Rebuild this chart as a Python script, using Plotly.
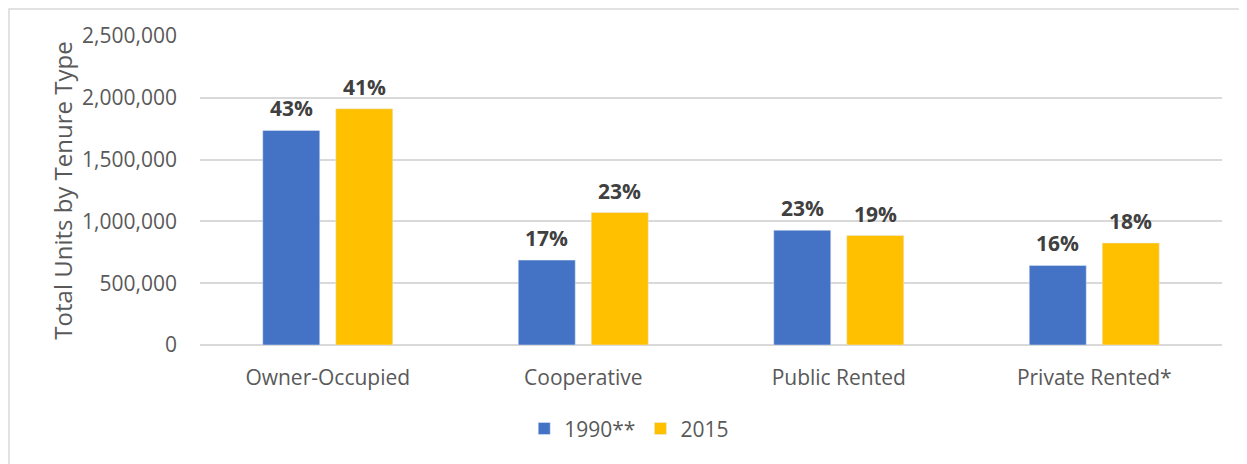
import plotly.graph_objects as go

# --- data ---
categories = ["Owner-Occupied", "Cooperative", "Public Rented", "Private Rented*"]
units_1990 = [1737000, 687000, 929000, 644000]
units_2015 = [1912000, 1072000, 886000, 826000]
share_1990 = ["43%", "17%", "23%", "16%"]
share_2015 = ["41%", "23%", "19%", "18%"]
y_ticks = [0, 500000, 1000000, 1500000, 2000000, 2500000]

BLUE = "#4472C4"
GOLD = "#FFC000"
GRID = "#D9D9D9"
TXT = "#595959"
LBL = "#404040"
FONT = "Open Sans"

# page body has an 8px margin, so the figure is sized/offset for that
W, H = 1239, 456
L, R, T, B = 192, 25, 28, 119
pw, ph = W - L - R, H - T - B

fig = go.Figure()
fig.add_trace(go.Bar(x=categories, y=units_1990, name="1990**", marker_color=BLUE))
fig.add_trace(go.Bar(x=categories, y=units_2015, name="2015", marker_color=GOLD))

# percent labels above each bar (offset to sit over grouped bars)
half = 0.1429
for i in range(len(categories)):
    for dx, val, txt in ((-half, units_1990[i], share_1990[i]), (half, units_2015[i], share_2015[i])):
        fig.add_annotation(x=i + dx, y=val, text=f"<b>{txt}</b>", showarrow=False,
                           yanchor="bottom", yshift=6,
                           font=dict(family=FONT, size=21, color=LBL))

# outer chart border (right/bottom edges fall outside the frame)
fig.add_shape(type="rect", xref="paper", yref="paper",
              x0=(1 - L) / pw, x1=(W + 20 - L) / pw,
              y0=-0.6, y1=(T + ph - 1) / ph,
              line=dict(color=GRID, width=1.5), layer="below")

fig.update_layout(
    width=W, height=H,
    margin=dict(l=L, r=R, t=T, b=B),
    paper_bgcolor="white", plot_bgcolor="white",
    font=dict(family=FONT, size=21, color=TXT),
    barmode="group", bargap=0.4286, bargroupgap=0.219,
    showlegend=True,
    legend=dict(orientation="h", x=0.42, xanchor="center", y=-0.205, yanchor="top",
                font=dict(family=FONT, size=21, color=TXT), traceorder="normal"),
    xaxis=dict(showgrid=False, showline=False, ticks="", tickfont=dict(size=21, color=TXT),
               ticklabelstandoff=18),
    yaxis=dict(range=[0, 2501000], tickvals=y_ticks, tickformat=",d",
               showgrid=True, gridcolor=GRID, gridwidth=1.5,
               zeroline=True, zerolinecolor=GRID, zerolinewidth=1.5,
               showline=False, ticks="", ticklabelstandoff=22,
               tickfont=dict(size=21, color=TXT),
               title=dict(text="Total Units by Tenure Type", standoff=2,
                          font=dict(size=24, color=TXT))),
)

fig.write_html("out.html")
